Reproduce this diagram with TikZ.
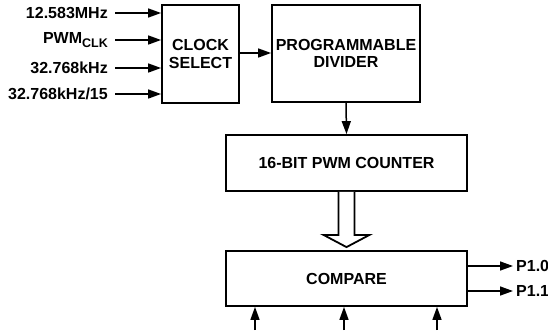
\documentclass[tikz,border=0pt]{standalone}
\usepackage{fontspec}
\setmainfont{Liberation Sans}
\usetikzlibrary{positioning,calc,arrows.meta}

\newcommand{\subclk}{\raisebox{-3.5pt}{\fontsize{12.5}{12.5}\selectfont CLK}}

\begin{document}
\begin{tikzpicture}[x=1pt,y=-1pt,
    blk/.style={draw, line width=1.8pt, rectangle, inner sep=0pt, align=center, font=\fontsize{16}{17.5}\selectfont\bfseries},
    lbl/.style={inner sep=0pt, font=\fontsize{16}{17.5}\selectfont\bfseries},
    sig/.style={line width=1.5pt, -{Triangle[length=13pt,width=9pt]}}
]
    \useasboundingbox (0,0) rectangle (548,330);

    % Blocks
    \node [blk, minimum width=77pt, minimum height=98pt] (clk) at (200.5,54) {CLOCK\\SELECT};
    \node [blk, minimum width=148pt, minimum height=97pt] (div) at (346,53.5) {PROGRAMMABLE\\DIVIDER};
    \node [blk, minimum width=241pt, minimum height=56pt] (cnt) at (346.5,163) {16-BIT PWM COUNTER};
    \node [blk, minimum width=241pt, minimum height=55pt] (cmp) at (346.5,278.5) {COMPARE};

    % Clock inputs
    \foreach \y/\name/\txt in {13/in1/12.583MHz, 40/in2/PWM\subclk, 68/in3/32.768kHz, 94/in4/{32.768kHz/15}} {
        \node [lbl, anchor=east] (\name) at (108,\y) {\txt};
        \draw [sig] ([xshift=7pt]\name.east |- 0,\y) -- (clk.west |- 0,\y);
    }

    \draw [sig] (clk.east |- 0,53) -- (div.west |- 0,53);
    \draw [sig] (div.south) -- (cnt.north);

    % Hollow bus arrow
    \draw [line width=1.8pt, line join=miter, fill=white]
        ($(cnt.south)+(-8,0)$) -- ++(0,43) -- ++(-15,0) -- ($(cmp.north)+(0,-3)$)
        -- ($(cnt.south)+(23,43)$) -- ++(-15,0) -- ($(cnt.south)+(8,0)$);

    % Outputs
    \node [lbl, anchor=west] (p10) at (516,266) {P1.0};
    \node [lbl, anchor=west] (p11) at (516,291) {P1.1};
    \draw [sig] (p10.west -| cmp.east) -- ([xshift=-3pt]p10.west);
    \draw [sig] (p11.west -| cmp.east) -- ([xshift=-3pt]p11.west);

    % Bottom inputs
    \foreach \x/\name in {255/b1, 344/b2, 437/b3} {
        \coordinate (\name) at (\x,330);
        \draw [sig] (\name) -- (\name |- cmp.south);
    }
\end{tikzpicture}
\end{document}
